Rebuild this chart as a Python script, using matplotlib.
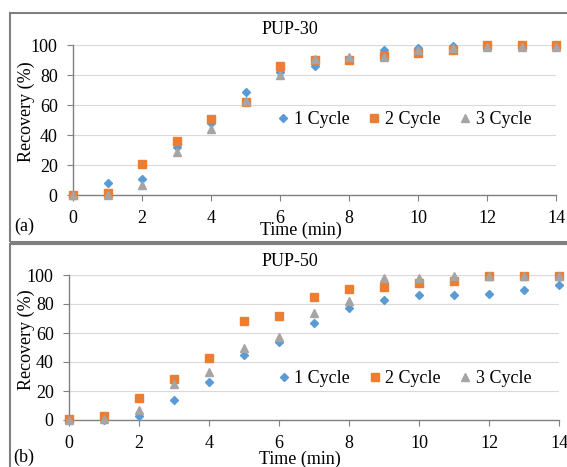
import matplotlib
matplotlib.use('Agg')
import matplotlib.pyplot as plt
from matplotlib.patches import Rectangle

plt.rcParams['font.family'] = ['Liberation Serif', 'DejaVu Serif']

time_min = [0, 1, 2, 3, 4, 5, 6, 7, 8, 9, 10, 11, 12, 13, 14]

pup30_c1 = [0, 8, 11, 32, 48, 69, 82, 86, 91, 97, 98, 99.5, 100, 100, 100]
pup30_c2 = [0, 1.5, 21, 36, 51, 62, 86, 90, 90, 93, 95, 97, 100, 100, 100]
pup30_c3 = [0, 0, 7, 29, 44, 63, 80, 91, 92, 92, 97, 98, 99, 99, 99]

pup50_c1 = [0, 0, 3, 14, 26, 45, 54, 67, 77, 83, 86, 86, 87, 90, 93]
pup50_c2 = [1, 3, 15, 28, 43, 68.5, 71.5, 85, 90.5, 92, 94.5, 96, 99, 99, 99]
pup50_c3 = [0, 1, 7, 25, 33, 50, 57, 74, 82, 98, 98, 99.5, 99.5, 99.5, 99.5]

labels = ['1 Cycle', '2 Cycle', '3 Cycle']
colors = ['#5B9BD5', '#ED7D31', '#A5A5A5']
markers = ['D', 's', '^']
sizes = [4.5, 6, 6]

W, H = 567, 467
fig = plt.figure(figsize=(W / 100, H / 100), dpi=100)


def px_axes(x0, x1, ytop, ybot):
    return fig.add_axes([x0 / W, 1 - ybot / H, (x1 - x0) / W, (ybot - ytop) / H])


def px_text(x, y, s, **kw):
    fig.text(x / W, 1 - y / H, s, ha='center', va='center', fontsize=13, **kw)


def draw_panel(ax, series, leg_pos):
    for s, lab, c, m, ms in zip(series, labels, colors, markers, sizes):
        ax.plot(time_min, s, linestyle='none', marker=m, color=c, markersize=ms,
                label=lab, clip_on=False, zorder=3)
    ax.set_xlim(0, 14)
    ax.set_ylim(0, 100)
    ax.set_xticks(range(0, 15, 2))
    ax.set_yticks(range(0, 101, 20))
    ax.grid(axis='y', color='#D9D9D9', linewidth=0.8)
    ax.set_axisbelow(True)
    for sp in ['top', 'right']:
        ax.spines[sp].set_visible(False)
    for sp in ['left', 'bottom']:
        ax.spines[sp].set_color('#808080')
        ax.spines[sp].set_linewidth(1.0)
    ax.tick_params(direction='out', length=4, color='#808080', labelsize=13,
                   pad=7)
    ax.legend(loc='center left', bbox_to_anchor=leg_pos, ncol=3, frameon=False,
              fontsize=13, handlelength=0.6, handletextpad=0.3, columnspacing=1.05,
              borderpad=0, borderaxespad=0)


ax1 = px_axes(73, 556, 45, 195)
draw_panel(ax1, [pup30_c1, pup30_c2, pup30_c3], (0.424, 0.5))
px_text(290, 29, 'PUP-30')
px_text(26, 112, 'Recovery (%)', rotation=90)
px_text(301, 230, 'Time (min)')
px_text(24, 226, '(a)')

ax2 = px_axes(69, 559, 275, 420)
draw_panel(ax2, [pup50_c1, pup50_c2, pup50_c3], (0.427, 0.283))
px_text(290, 261, 'PUP-50')
px_text(26, 340, 'Recovery (%)', rotation=90)
px_text(300, 459, 'Time (min)')
px_text(24, 457, '(b)')

# panel frames
for ytop, ybot in [(13, 242), (244, 475)]:
    fig.patches.append(Rectangle((10 / W, 1 - ybot / H), (W + 20 - 10) / W, (ybot - ytop) / H,
                                 transform=fig.transFigure, fill=False,
                                 edgecolor='#7F7F7F', linewidth=1.5))

fig.savefig('out.png', dpi=100)
